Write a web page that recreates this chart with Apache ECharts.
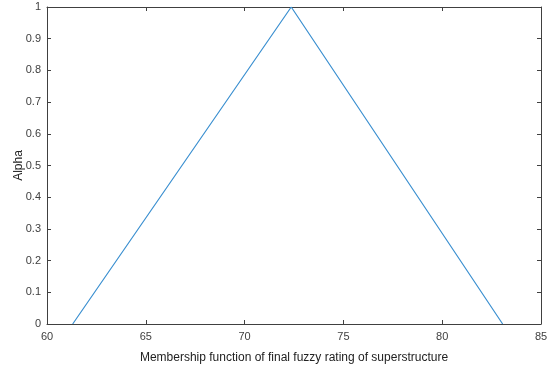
<!DOCTYPE html>
<html><head><meta charset="utf-8">
<script src="https://cdn.jsdelivr.net/npm/echarts@6/dist/echarts.min.js"></script>
<style>html,body{margin:0;padding:0;background:#fff}#c{width:550px;height:369px}</style>
</head><body><div id="c"></div>
<script>
var xValues = [61.3, 72.36, 83.06];
var alphaValues = [0, 1, 0];
var xTicks = [60, 65, 70, 75, 80, 85];
var yTicks = [0, 0.1, 0.2, 0.3, 0.4, 0.5, 0.6, 0.7, 0.8, 0.9, 1];
var xTitle = 'Membership function of final fuzzy rating of superstructure';
var yTitle = 'Alpha';

var axisColor = '#404040';
var labelColor = '#404040';
var font = 'Arial, "Liberation Sans", sans-serif';
var chart = echarts.init(document.getElementById('c'));
function baseAxis(extra) {
  return Object.assign({
    type: 'value',
    axisLine: {show: true, onZero: false, lineStyle: {color: axisColor, width: 1}},
    axisTick: {show: true, inside: true, length: 4, lineStyle: {color: axisColor}},
    splitLine: {show: false},
    axisLabel: {color: labelColor, fontFamily: font, fontSize: 11}
  }, extra);
}
chart.setOption({
  animation: false,
  grid: {left: 47, right: 9, top: 7, bottom: 45, containLabel: false, outerBoundsMode: 'none'},
  xAxis: [
    baseAxis({min: xTicks[0], max: xTicks[xTicks.length-1], interval: 5, position: 'bottom',
      name: xTitle, nameLocation: 'middle', nameGap: 28, nameMoveOverlap: false,
      nameTextStyle: {color: '#222', fontFamily: font, fontSize: 12},
      axisLabel: {color: labelColor, fontFamily: font, fontSize: 11, margin: 7}}),
    baseAxis({min: xTicks[0], max: xTicks[xTicks.length-1], interval: 5, position: 'top',
      axisLabel: {show: false}})
  ],
  yAxis: [
    baseAxis({min: 0, max: 1, interval: 0.1, position: 'left',
      name: yTitle, nameLocation: 'middle', nameGap: 22, nameMoveOverlap: false,
      nameTextStyle: {color: '#222', fontFamily: font, fontSize: 12},
      axisLabel: {color: labelColor, fontFamily: font, fontSize: 11, margin: 6,
        formatter: function(v){ return String(Math.round(v*10)/10); }}}),
    baseAxis({min: 0, max: 1, interval: 0.1, position: 'right', axisLabel: {show: false}})
  ],
  series: [{
    type: 'line',
    data: xValues.map(function(x, i){ return [x, alphaValues[i]]; }),
    showSymbol: false,
    lineStyle: {color: '#3a8fd0', width: 1.2},
    xAxisIndex: 0, yAxisIndex: 0
  }]
});
</script></body></html>
